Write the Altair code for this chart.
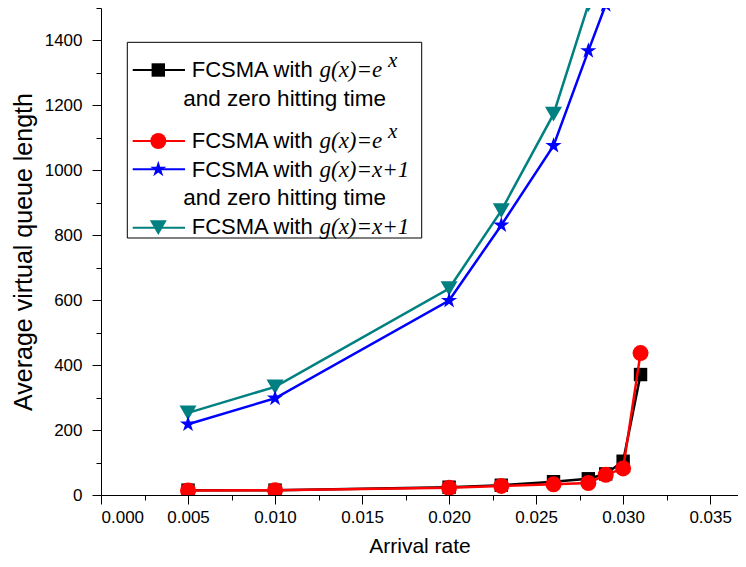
import altair as alt
import pandas as pd

# ---- data ----
x_black = [0.005, 0.010, 0.020, 0.023, 0.026, 0.028, 0.029, 0.030, 0.031]
y_black = [15, 15, 24, 30, 41, 50, 65, 104, 371]
x_red = [0.005, 0.010, 0.020, 0.023, 0.026, 0.028, 0.029, 0.030, 0.031]
y_red = [14, 15, 22, 28, 33, 37, 62, 82, 437]
x_blue = [0.005, 0.010, 0.020, 0.023, 0.026, 0.028, 0.029]
y_blue = [218, 298, 599, 831, 1076, 1368, 1510]
x_teal = [0.005, 0.010, 0.020, 0.023, 0.026, 0.028]
y_teal = [253, 333, 636, 876, 1173, 1510]

x_ticks = [i * 0.0025 for i in range(15)]
y_ticks = [i * 100 for i in range(16)]

SANS = "Liberation Sans"
SERIF = "Liberation Serif"
STAR = ("M0,-1L0.2245,-0.309L0.9511,-0.309L0.3633,0.118L0.5878,0.809L0,0.382"
        "L-0.5878,0.809L-0.3633,0.118L-0.9511,-0.309L-0.2245,-0.309Z")

BLACK, RED, BLUE, TEAL = "#000000", "#ff0000", "#0000ff", "#008080"

x_axis = alt.Axis(
    values=x_ticks,
    labelExpr="round(datum.value*400) % 2 == 0 ? format(datum.value, '.3f') : ''",
    tickSize={"condition": {"test": "round(datum.value*400) % 2 == 0", "value": 9}, "value": 5},
    labelPadding=5, titlePadding=10, grid=False, titleFontSize=21,
)
y_axis = alt.Axis(
    values=y_ticks,
    labelExpr="datum.value % 200 == 0 ? datum.label : ''",
    tickSize={"condition": {"test": "datum.value % 200 == 0", "value": 9}, "value": 5},
    labelPadding=10, titlePadding=8, grid=False, format="d", titleFontSize=25,
)

X = alt.X("x:Q", scale=alt.Scale(domain=[0, 0.0366], nice=False, zero=False),
          axis=x_axis, title="Arrival rate")
Y = alt.Y("y:Q", scale=alt.Scale(domain=[0, 1500], nice=False),
          axis=y_axis, title="Average virtual queue length")


def series(xs, ys, color, shape, size):
    d = pd.DataFrame({"x": xs, "y": ys})
    b = alt.Chart(d)
    line = b.mark_line(color=color, strokeWidth=2.5, clip=True).encode(x=X, y=Y)
    pts = b.mark_point(color=color, filled=True, opacity=1, shape=shape,
                       size=size, clip=True).encode(x=X, y=Y)
    return [line, pts]


layers = []
layers += series(x_teal, y_teal, TEAL, "triangle-down", 289)
layers += series(x_blue, y_blue, BLUE, STAR, 290)
layers += series(x_black, y_black, BLACK, "square", 180)
layers += series(x_red, y_red, RED, "circle", 256)

# ---- hand-built legend (mixed fonts) ----
one = pd.DataFrame({"a": [0]})
lg = alt.Chart(one)
layers.append(lg.mark_rect(fill="white", stroke="black", strokeWidth=1).encode(
    x=alt.value(26.3), x2=alt.value(320.7), y=alt.value(34.3), y2=alt.value(230)))

entries = [
    (BLACK, "square", 180, 62, 68.7, "g(x)=e", True),
    (RED, "circle", 256, 133, 140.3, "g(x)=e", True),
    (BLUE, STAR, 290, 161.3, 168.7, "g(x)=x+1", False),
    (TEAL, "triangle-down", 289, 219.7, 226, "g(x)=x+1", False),
]
for color, shape, size, ly, tb, formula, sup in entries:
    layers.append(lg.mark_rule(color=color, strokeWidth=2).encode(
        x=alt.value(31.7), x2=alt.value(84), y=alt.value(ly)))
    layers.append(lg.mark_point(color=color, filled=True, opacity=1, shape=shape,
                                size=size).encode(x=alt.value(57.3), y=alt.value(ly)))
    layers.append(lg.mark_text(text="FCSMA with", font=SANS, fontSize=22, align="left",
                               baseline="alphabetic", color="black").encode(
        x=alt.value(90.7), y=alt.value(tb)))
    layers.append(lg.mark_text(text=formula, font=SERIF, fontSize=23, fontStyle="italic",
                               align="left", baseline="alphabetic", color="black").encode(
        x=alt.value(218.5), y=alt.value(tb)))
    if sup:
        layers.append(lg.mark_text(text="x", font=SERIF, fontSize=21, fontStyle="italic",
                                   align="left", baseline="alphabetic", color="black").encode(
            x=alt.value(287), y=alt.value(tb - 10)))

for tb in (97.7, 197):
    layers.append(lg.mark_text(text="and zero hitting time", font=SANS, fontSize=22.5,
                               align="left", baseline="alphabetic", color="black").encode(
        x=alt.value(82.3), y=alt.value(tb)))

chart = alt.layer(*layers).properties(
    width=637, height=487, autosize="none",
    padding={"left": 93, "top": 0, "right": 0, "bottom": 72},
).configure_view(stroke=None).configure_axis(
    domainColor="black", tickColor="black", labelColor="black", titleColor="black",
    labelFont=SANS, labelFontSize=17, titleFont=SANS,
    titleFontWeight="normal", domainWidth=1, tickWidth=1,
)

chart.save("out.html", embed_options={"renderer": "svg", "actions": False})
